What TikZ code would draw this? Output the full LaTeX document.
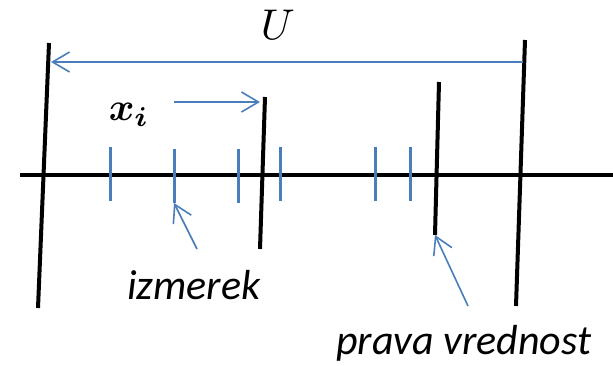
\documentclass[tikz,border=0pt]{standalone}
\usepackage{fontspec}
\usepackage{amsmath}
\usepackage{bm}
\newfontfamily\labelfont{Carlito}
\usetikzlibrary{arrows.meta}
\definecolor{obl}{HTML}{4A7EBB}
\tikzset{
  blk/.style={line width=4pt,black},
  tickmark/.style={line width=3pt,obl},
  barrow/.style={line width=1.6pt,obl,-{Straight Barb[length=17pt,width=20pt,line width=1.6pt]}},
  lbl/.style={font=\labelfont\itshape\fontsize{42}{46}\selectfont,inner sep=0pt,anchor=base west}
}
\begin{document}
\begin{tikzpicture}[x=1pt,y=-1pt]
\useasboundingbox (0,0) rectangle (613,365);
% axis
\coordinate (axL) at (20,175);
\coordinate (axR) at (613,175);
\draw[blk] (axL) -- (axR);
% black lines
\coordinate (L1t) at (49,43);  \coordinate (L1b) at (38,308);
\coordinate (L2t) at (525,40); \coordinate (L2b) at (516,306);
\coordinate (M1t) at (265,97); \coordinate (M1b) at (260,249);
\coordinate (M2t) at (439,82); \coordinate (M2b) at (435,235);
\draw[blk] (L1t) -- (L1b);
\draw[blk] (L2t) -- (L2b);
\draw[blk] (M1t) -- (M1b);
\draw[blk] (M2t) -- (M2b);
% blue ticks
\foreach \n/\x/\a/\b in {t1/110/147/201, t2/174/149/203, t3/238/149/203, t4/280/147/201, t5/375/147/201, t6/410/147/201}{
  \coordinate (\n a) at (\x,\a); \coordinate (\n b) at (\x,\b);
  \draw[tickmark] (\n a) -- (\n b);
}
% U arrow
\coordinate (Ua) at (51,62); \coordinate (Ub) at (523,62);
\draw[barrow,{Straight Barb[length=17pt,width=20pt,line width=1.6pt]}-] (Ua) -- (Ub);
\node[inner sep=0pt,scale=4.3] (U) at (278,25) {$U$};
% x_i arrow
\coordinate (xa) at (174,102); \coordinate (xb) at (260,102);
\draw[barrow] (xa) -- (xb);
\node[inner sep=0pt,scale=3.9] (xi) at (129,115) {$\bm{x_i}$};
% izmerek
\coordinate (ia) at (197,249);
\draw[barrow] (ia) -- (t2b);
\node[lbl] (izm) at (127,299) {izmerek};
% prava vrednost
\coordinate (pa) at (468,306);
\draw[barrow] (pa) -- (M2b);
\node[lbl] (prv) at (336,354) {prava vrednost};
\end{tikzpicture}
\end{document}
